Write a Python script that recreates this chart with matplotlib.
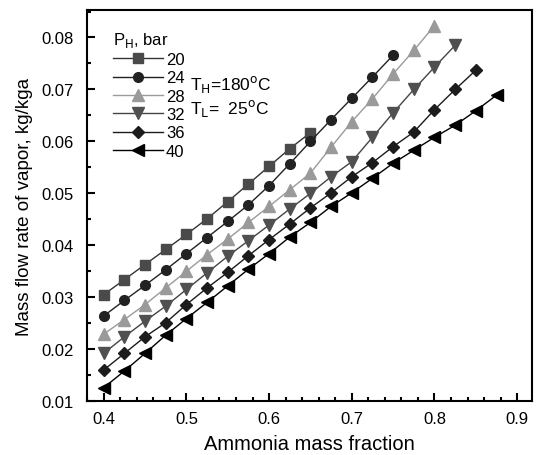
import numpy as np
import matplotlib.pyplot as plt
from matplotlib.ticker import MultipleLocator

plt.rcParams['font.family'] = ['Liberation Sans', 'DejaVu Sans']

# ammonia mass fraction, step 0.025 from 0.4
x20 = [0.400, 0.425, 0.450, 0.475, 0.500, 0.525, 0.550, 0.575, 0.600, 0.625, 0.650]
y20 = [0.0305, 0.0334, 0.0363, 0.0392, 0.0421, 0.0451, 0.0484, 0.0518, 0.0552, 0.0586, 0.0617]

x24 = [0.400, 0.425, 0.450, 0.475, 0.500, 0.525, 0.550, 0.575, 0.600, 0.625,
       0.650, 0.675, 0.700, 0.725, 0.750]
y24 = [0.0264, 0.0294, 0.0323, 0.0353, 0.0384, 0.0415, 0.0446, 0.0478, 0.0515, 0.0557,
       0.0600, 0.0642, 0.0683, 0.0724, 0.0766]

x28 = [0.400, 0.425, 0.450, 0.475, 0.500, 0.525, 0.550, 0.575, 0.600, 0.625,
       0.650, 0.675, 0.700, 0.725, 0.750, 0.775, 0.800]
y28 = [0.0229, 0.0257, 0.0286, 0.0318, 0.0350, 0.0382, 0.0412, 0.0444, 0.0475, 0.0507,
       0.0539, 0.0589, 0.0638, 0.0682, 0.0730, 0.0775, 0.0823]

x32 = [0.400, 0.425, 0.450, 0.475, 0.500, 0.525, 0.550, 0.575, 0.600, 0.625,
       0.650, 0.675, 0.700, 0.725, 0.750, 0.775, 0.800, 0.825]
y32 = [0.0192, 0.0224, 0.0254, 0.0283, 0.0315, 0.0347, 0.0379, 0.0409, 0.0439, 0.0470,
       0.0500, 0.0532, 0.0561, 0.0608, 0.0655, 0.0700, 0.0743, 0.0785]

x36 = [0.400, 0.425, 0.450, 0.475, 0.500, 0.525, 0.550, 0.575, 0.600, 0.625,
       0.650, 0.675, 0.700, 0.725, 0.750, 0.775, 0.800, 0.825, 0.850]
y36 = [0.0160, 0.0192, 0.0224, 0.0251, 0.0286, 0.0318, 0.0348, 0.0380, 0.0411, 0.0441,
       0.0472, 0.0501, 0.0532, 0.0559, 0.0590, 0.0618, 0.0661, 0.0700, 0.0737]

x40 = [0.400, 0.425, 0.450, 0.475, 0.500, 0.525, 0.550, 0.575, 0.600, 0.625,
       0.650, 0.675, 0.700, 0.725, 0.750, 0.775, 0.800, 0.825, 0.850, 0.875]
y40 = [0.0126, 0.0158, 0.0192, 0.0227, 0.0259, 0.0290, 0.0322, 0.0354, 0.0384, 0.0416,
       0.0444, 0.0475, 0.0501, 0.0529, 0.0558, 0.0583, 0.0608, 0.0631, 0.0659, 0.0689]

series = [
    ('20', x20, y20, 's', '#4a4a4a', '#333333'),
    ('24', x24, y24, 'o', '#222222', '#222222'),
    ('28', x28, y28, '^', '#9a9a9a', '#9a9a9a'),
    ('32', x32, y32, 'v', '#505050', '#444444'),
    ('36', x36, y36, 'D', '#1c1c1c', '#1c1c1c'),
    ('40', x40, y40, '<', '#000000', '#000000'),
]
sizes = {'s': 6.5, 'o': 7, '^': 8, 'v': 8, 'D': 6, '<': 8}

fig = plt.figure(figsize=(5.38, 4.56), dpi=100)
ax = fig.add_axes([0.162, 0.118, 0.827, 0.858])

for label, xs, ys, mk, mc, lc in series:
    ax.plot(xs, ys, color=lc, lw=1.0, marker=mk, markersize=sizes[mk],
            markerfacecolor=mc, markeredgecolor=mc, label=label)

ax.set_xlim(0.38, 0.918)
ax.set_ylim(0.01, 0.0853)
ax.xaxis.set_major_locator(MultipleLocator(0.1))
ax.xaxis.set_minor_locator(MultipleLocator(0.02))
ax.yaxis.set_major_locator(MultipleLocator(0.01))
ax.yaxis.set_minor_locator(MultipleLocator(0.005))
ax.tick_params(which='both', direction='in', top=False, right=False, width=1.5,
               labelsize=12)
ax.tick_params(which='major', length=6, pad=10)
ax.tick_params(which='minor', length=3)
ax.tick_params(axis='x', pad=7)
for s in ax.spines.values():
    s.set_linewidth(1.5)

ax.set_xlabel('Ammonia mass fraction', fontsize=14.5, labelpad=6)
ax.set_ylabel('Mass flow rate of vapor, kg/kga', fontsize=13.5, labelpad=6)

leg = ax.legend(loc='upper left', bbox_to_anchor=(0.035, 0.975), frameon=False,
                title='P$_{\\mathrm{H}}$, bar', title_fontsize=12, fontsize=12,
                handlelength=3.0, handletextpad=0.2, labelspacing=0.2,
                borderaxespad=0.2, alignment='left')

ax.text(0.232, 0.797, 'T$_{\\mathrm{H}}$=180$^{\\mathrm{o}}$C', transform=ax.transAxes,
        fontsize=12.5)
ax.text(0.232, 0.737, 'T$_{\\mathrm{L}}$=  25$^{\\mathrm{o}}$C', transform=ax.transAxes,
        fontsize=12.5)

fig.savefig('out.png', dpi=100)
